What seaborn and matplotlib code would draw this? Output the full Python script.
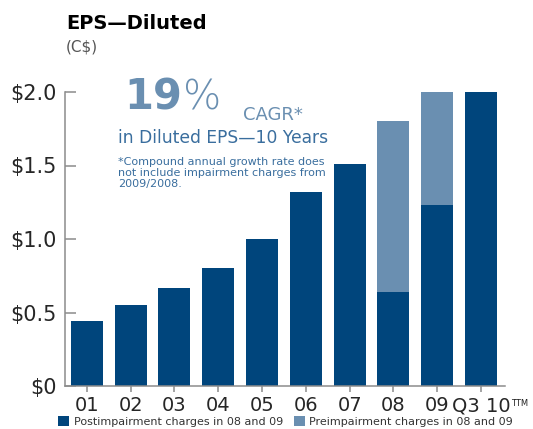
import matplotlib
matplotlib.use("Agg")
import matplotlib.pyplot as plt
import seaborn as sns
import numpy as np
from matplotlib.patches import Patch

categories = ["01", "02", "03", "04", "05", "06", "07", "08", "09", "Q3 10"]
post_impairment = [0.44, 0.55, 0.67, 0.80, 1.00, 1.32, 1.51, 0.64, 1.23, 2.00]
pre_impairment = [0.44, 0.55, 0.67, 0.80, 1.00, 1.32, 1.51, 1.80, 2.00, 2.00]
y_ticks = [0, 0.5, 1.0, 1.5, 2.0]
y_labels = ["$0", "$0.5", "$1.0", "$1.5", "$2.0"]

DARK = "#00457C"
LIGHT = "#6A8FB1"
MID = "#3A6E9E"
GRAY = "#8C8C8C"

sns.set_theme(style="white")
plt.rcParams["font.family"] = ["DejaVu Sans"]

fig = plt.figure(figsize=(5.33, 4.29), dpi=100)
ax = fig.add_axes([65/533, 1-386/429, (505-65)/533, (386-92)/429])

sns.barplot(x=categories, y=pre_impairment, color=LIGHT, saturation=1, width=0.73,
            linewidth=0, edgecolor="none", ax=ax)
sns.barplot(x=categories, y=post_impairment, color=DARK, saturation=1, width=0.73,
            linewidth=0, edgecolor="none", ax=ax)

ax.set_ylim(0, 2.0)
ax.set_xlim(-0.5, 9.55)
ax.set_yticks(y_ticks)
ax.set_yticklabels(y_labels, fontsize=15)
ax.set_xticklabels(categories, fontsize=14)
ax.set_xlabel("")
ax.set_ylabel("")
for s in ["top", "right"]:
    ax.spines[s].set_visible(False)
for s in ["left", "bottom"]:
    ax.spines[s].set_color(GRAY)
    ax.spines[s].set_linewidth(1.1)
ax.tick_params(axis="y", direction="in", length=8, width=1.1, color=GRAY, pad=6, left=True)
ax.tick_params(axis="x", direction="out", length=4.5, width=1.1, color=GRAY, pad=3, bottom=True)

# TTM superscript placed just right of the last tick label
fig.canvas.draw()
renderer = fig.canvas.get_renderer()
last_lbl = ax.get_xticklabels()[-1]
bb = last_lbl.get_window_extent(renderer)
fig.text((bb.x1 + 1) / fig.bbox.width, (bb.y1 - 3) / fig.bbox.height, "TTM",
         fontsize=6, color="#222222", va="top", ha="left")

# Title
fig.text(66/533, 1-29/429, "EPS\u2014Diluted", fontsize=14, fontweight="bold", color="black", va="baseline")
fig.text(66/533, 1-52/429, "(C$)", fontsize=11, color="#555555", va="baseline")

# Annotation
fig.text(124/533, 1-110/429, "19", fontsize=30, fontweight="bold", color=LIGHT, va="baseline")
fig.text(183/533, 1-110/429, "%", fontsize=29, color=LIGHT, va="baseline", fontweight="light")
fig.text(243/533, 1-120/429, "CAGR*", fontsize=13, color=LIGHT, va="baseline")
fig.text(118/533, 1-143/429, "in Diluted EPS\u201410 Years", fontsize=12.3, color=MID, va="baseline")
fig.text(118/533, 1-157/429, "*Compound annual growth rate does\nnot include impairment charges from\n2009/2008.",
         fontsize=8, color=MID, va="top", linespacing=1.1)

handles = [Patch(facecolor=DARK, edgecolor="none"), Patch(facecolor=LIGHT, edgecolor="none")]
fig.legend(handles, ["Postimpairment charges in 08 and 09", "Preimpairment charges in 08 and 09"],
           loc="upper left", bbox_to_anchor=(58/533, 1-416/429), ncol=2, frameon=False,
           fontsize=8, handlelength=1.0, handleheight=1.0, columnspacing=1.0, handletextpad=0.4,
           borderaxespad=0, borderpad=0, labelcolor="#333333")

fig.savefig("out.png", dpi=100)
